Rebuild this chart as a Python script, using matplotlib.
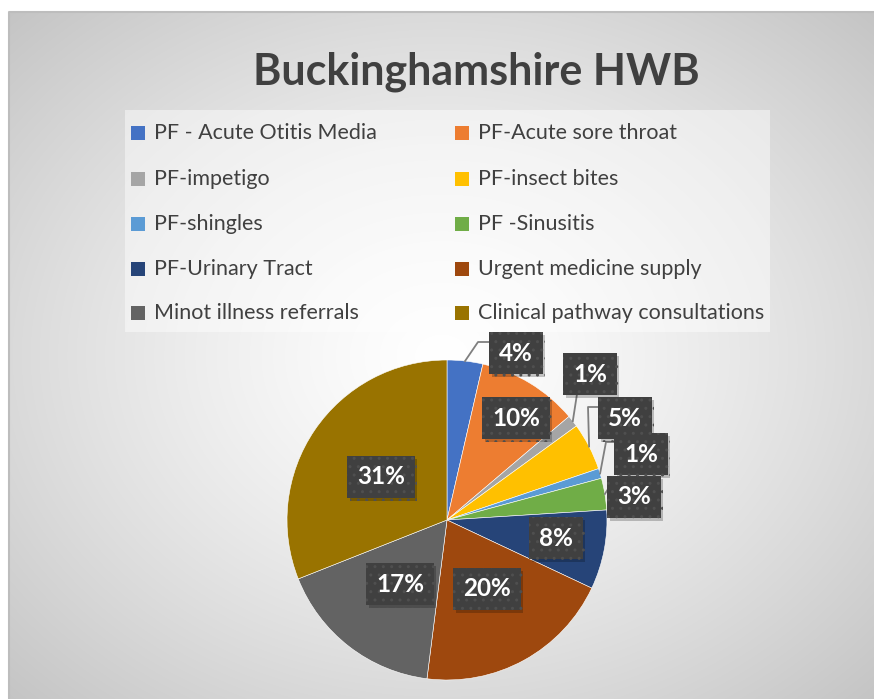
import numpy as np
import matplotlib.pyplot as plt
from matplotlib.patches import Rectangle
import matplotlib.patheffects as pe

plt.rcParams['font.family'] = ['Lato', 'DejaVu Sans']

# data (share of activity, %)
categories = ["PF - Acute Otitis Media", "PF-Acute sore throat", "PF-impetigo",
              "PF-insect bites", "PF-shingles", "PF -Sinusitis", "PF-Urinary Tract",
              "Urgent medicine supply", "Minot illness referrals",
              "Clinical pathway consultations"]
values = [3.6, 10.2, 1.2, 4.8, 1.0, 3.2, 8.0, 20.0, 17.0, 31.0]
colors = ["#4472C4", "#ED7D31", "#A5A5A5", "#FFC000", "#5B9BD5",
          "#70AD47", "#264478", "#9E480E", "#636363", "#997300"]

# label box centres in pixels (layout)
label_px = [(516, 353), (516, 418), (590, 374), (625, 418), (641, 454),
            (634, 497), (556, 538), (487, 589), (400, 584), (381, 477)]
# leader line elbows in pixels for labels outside the pie (layout)
leaders = {0: [(478, 342), (491, 342)],
           2: [(577, 394)],
           3: [(588, 407), (600, 407)],
           4: [(606, 442), (616, 442)],
           5: [(610, 486)]}

W, H = 874, 699
CX, CY, R = 447, 520, 160

fig = plt.figure(figsize=(W / 100, H / 100), dpi=100)

# background with radial gradient
bg = fig.add_axes([0, 0, 1, 1])
bg.set_xlim(0, W)
bg.set_ylim(H, 0)
bg.axis("off")
yy, xx = np.mgrid[0:H, 0:W]
x0, y0 = 9, 12
gx, gy = (x0 + W) / 2, (y0 + H) / 2
rr = np.sqrt(((xx - gx) / ((W - x0) / 2)) ** 2 + ((yy - gy) / ((H - y0) / 2)) ** 2) / np.sqrt(2)
shade = 1.0 - 0.23 * np.clip(rr, 0, 1) ** 1.3
img = np.dstack([shade] * 3)
img[:y0, :, :] = 1.0
img[:, :x0, :] = 1.0
bg.imshow(img, extent=(0, W, H, 0), aspect="auto", zorder=0)
bg.plot([x0, x0, W], [H, y0, y0], color="#bdbdbd", lw=1.5, zorder=1)

# legend box
bg.add_patch(Rectangle((125, 110), 645, 222, facecolor="white", alpha=0.45,
                       edgecolor="none", zorder=1))

# title
bg.text(476, 72, "Buckinghamshire HWB", ha="center", va="center",
        fontsize=31, fontweight="bold", color="#404040", zorder=2)

# legend entries, filled row by row
col_x = [131, 455]
row_y = [133, 179, 224, 269, 313]
for i, (lab, c) in enumerate(zip(categories, colors)):
    lx = col_x[i % 2]
    ly = row_y[i // 2]
    bg.add_patch(Rectangle((lx, ly - 7), 14, 14, facecolor=c, edgecolor="none", zorder=2))
    bg.text(lx + 23, ly, lab, ha="left", va="center", fontsize=15.5,
            color="#404040", zorder=2)

# pie
ax = fig.add_axes([0, 0, 1, 1])
ax.patch.set_alpha(0)
wedges, _ = ax.pie(values, colors=colors, startangle=90, counterclock=False,
                   radius=1.0, center=(0, 0),
                   wedgeprops=dict(edgecolor="#ffffff", linewidth=0.4))
ax.set_aspect("auto")
ax.set_xlim(-CX / R, (W - CX) / R)
ax.set_ylim((CY - H) / R, CY / R)
ax.axis("off")


def to_data(p):
    return ((p[0] - CX) / R, (CY - p[1]) / R)


total = sum(values)
cum = 0.0
for i, v in enumerate(values):
    mid = 90 - 360 * (cum + v / 2) / total
    cum += v
    if i in leaders:
        start = (np.cos(np.radians(mid)), np.sin(np.radians(mid)))
        pts = [start] + [to_data(p) for p in leaders[i]]
        ax.plot([p[0] for p in pts], [p[1] for p in pts], color="#7f7f7f",
                lw=1.3, zorder=3)
    lx, ly = to_data(label_px[i])
    txt = f"{v / total * 100:.0f}%"
    box = dict(boxstyle="square,pad=0.4", facecolor="#404040", edgecolor="#4f4f4f",
               linewidth=0, hatch="..")
    t = ax.text(lx, ly, txt, ha="center", va="center", fontsize=17.5,
                fontweight="bold", color="white", zorder=5, bbox=box)
    t.get_bbox_patch().set_path_effects(
        [pe.SimplePatchShadow(offset=(2, -2), shadow_rgbFace="black", alpha=0.22),
         pe.Normal()])

fig.savefig("out.png", dpi=100)
